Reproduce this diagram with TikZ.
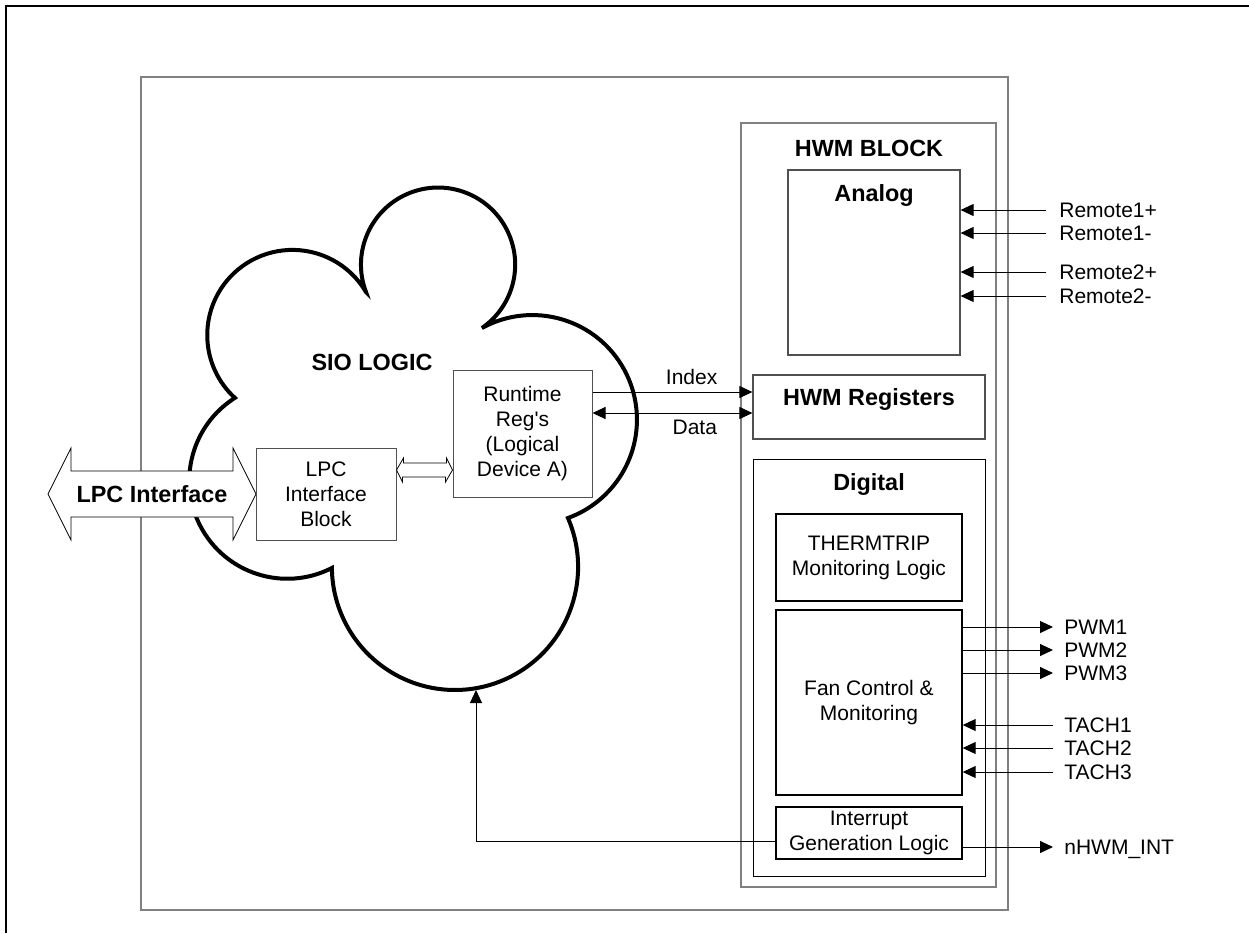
\documentclass[tikz,border=0pt]{standalone}
\usepackage{fontspec}
\setmainfont{Liberation Sans}
\usetikzlibrary{arrows.meta, positioning, calc}
\definecolor{framegray}{RGB}{128,128,128}
\definecolor{boxgray}{RGB}{80,80,80}

\begin{document}
\begin{tikzpicture}[
    x=0.5pt, y=-0.5pt,
    font=\fontsize{10.5}{12.5}\selectfont,
    blk/.style={rectangle, draw=black, line width=0.7pt, fill=white, inner sep=0pt, align=center},
    graybox/.style={rectangle, draw=framegray, line width=0.6pt, inner sep=0pt},
    sz/.style 2 args={minimum width=#1*0.5pt, minimum height=#2*0.5pt},
    title/.style={font=\fontsize{11.7}{14}\selectfont\bfseries, inner sep=0pt},
    pin/.style={anchor=west, inner sep=0pt, text height=7.5pt, text depth=0pt},
    sig/.style={-{Triangle[length=6.5pt, width=6pt]}, line width=0.5pt},
    bisig/.style={{Triangle[length=6.5pt, width=6pt]}-{Triangle[length=6.5pt, width=6pt]}, line width=0.5pt},
    hollow/.style={draw=black, line width=0.4pt, fill=white}
]

\useasboundingbox (0,0) rectangle (1249,933);

% page frame
\draw[line width=1.2pt] (6,933) -- (6,6) -- (1249,6);

% chip outline
\node[graybox, sz={867}{833}] (chip) at (574.5,493.5) {};

% SIO cloud
\draw[line width=2pt] (366,292)
  arc[start angle=159.2, end angle=415.3, radius=77.1]
  arc[start angle=241.2, end angle=430.1, radius=104.6]
  arc[start angle=-23.4, end angle=179.5, radius=123.1]
  arc[start angle=62.9, end angle=237.7, radius=98]
  arc[start angle=132.5, end angle=329.5, radius=85.2] -- cycle;
\node[title] (siotxt) at (372,362) {SIO LOGIC};

% LPC host bus
\draw[hollow] (48,494) -- (71,448) -- (71,471) -- (233,471) -- (233,448) -- (256,494)
  -- (233,540) -- (233,517) -- (71,517) -- (71,540) -- cycle;
\node[title] (lpctxt) at (152,494) {LPC Interface};

% SIO blocks
\node[blk, draw=boxgray, line width=0.5pt, sz={140}{92}] (lpcblk) at (326,494) {LPC\\Interface\\Block};
\node[blk, draw=boxgray, line width=0.5pt, sz={139}{127}] (rtreg) at (522.5,433.5) {Runtime\\Reg\textquotesingle s\\(Logical\\Device A)};
\draw[hollow] (lpcblk.east |- 0,470) -- ++(7,-12) -- ++(0,5) -- ++(43,0) -- ++(0,-5)
  -- (rtreg.west |- 0,470) -- ++(-7,12) -- ++(0,-5) -- ++(-43,0) -- ++(0,5) -- cycle;

% HWM block
\node[graybox, sz={255}{764}] (hwm) at (868.5,505) {};
\node[title] (hwmtxt) at (869,148) {HWM BLOCK};
\node[graybox, draw=boxgray, sz={172}{185}] (analog) at (874,262.5) {};
\node[title] (analogtxt) at (874,195) {Analog};
\node[graybox, draw=boxgray, sz={232}{64}] (regs) at (869,407) {};
\node[title] (regstxt) at (869,399) {HWM Registers};
\node[blk, line width=0.5pt, sz={232}{417}] (digital) at (869,667.5) {};
\node[title] (digitaltxt) at (869,484) {Digital};
\node[blk, sz={186}{87}] (therm) at (869,557.5) {THERMTRIP\\Monitoring Logic};
\node[blk, sz={186}{185}] (fan) at (869,702.5) {Fan Control \&\\Monitoring};
\node[blk, sz={186}{52}] (intr) at (869,833) {Interrupt\\Generation Logic};

% index / data path
\draw[sig] (rtreg.east |- 0,392) -- (regs.west |- 0,392) node[pos=0.62, above] (idxtxt) {Index};
\draw[bisig] (rtreg.east |- 0,413) -- (regs.west |- 0,413) node[pos=0.64, below] (datatxt) {Data};

% analog inputs
\foreach \yy/\txt in {210/Remote1+, 233/Remote1-, 272/Remote2+, 296/Remote2-} {
  \node[pin] (rin\yy) at (1059,\yy) {\txt};
  \draw[sig] ([xshift=-6.5pt]rin\yy.west) -- (analog.east |- rin\yy.west);
}

% fan outputs and tach inputs
\foreach \yy/\txt in {627/PWM1, 650/PWM2, 673/PWM3} {
  \node[pin] (pwm\yy) at (1064,\yy) {\txt};
  \draw[sig] (fan.east |- pwm\yy.west) -- ([xshift=-5.5pt]pwm\yy.west);
}
\foreach \yy/\txt in {725/TACH1, 748/TACH2, 772/TACH3} {
  \node[pin] (tach\yy) at (1064,\yy) {\txt};
  \draw[sig] ([xshift=-5.5pt]tach\yy.west) -- (fan.east |- tach\yy.west);
}

% interrupt
\node[pin] (nint) at (1064,847) {nHWM\_INT};
\draw[sig] (intr.east |- nint.west) -- ([xshift=-5.5pt]nint.west);
\coordinate (siobot) at (476,690);
\draw[sig] (intr.west |- 0,841) -| (siobot);

\end{tikzpicture}
\end{document}
